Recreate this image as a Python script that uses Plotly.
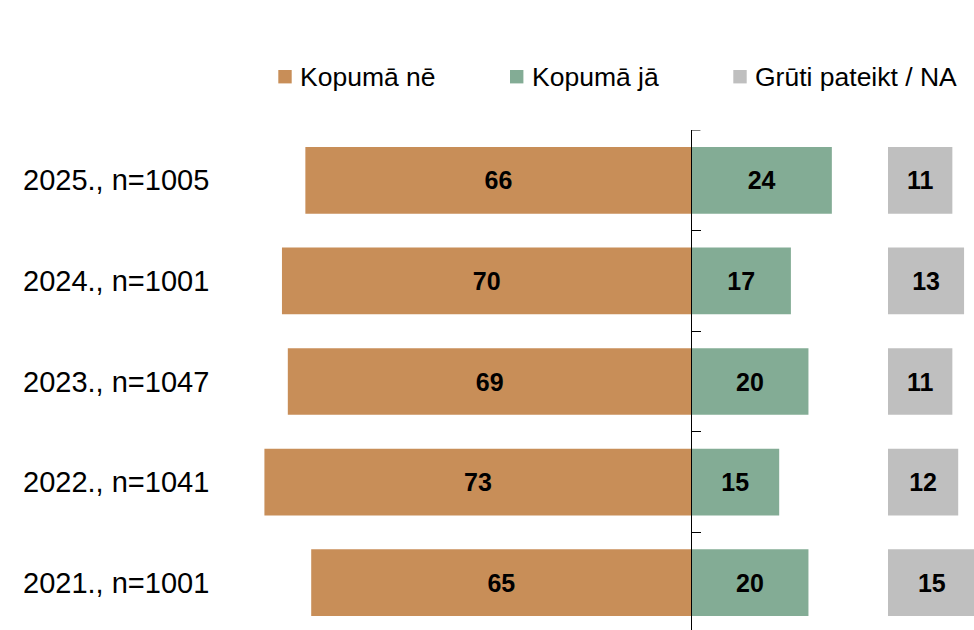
import plotly.graph_objects as go

categories = ["2025., n=1005", "2024., n=1001", "2023., n=1047", "2022., n=1041", "2021., n=1001"]
kopuma_ne = [66, 70, 69, 73, 65]
kopuma_ja = [24, 17, 20, 15, 20]
gruti_na = [11, 13, 11, 12, 15]
series_names = ["Kopumā nē", "Kopumā jā", "Grūti pateikt / NA"]

C_NE = "#C88E58"
C_JA = "#83AC95"
C_NA = "#BFBFBF"
FONT = "Liberation Sans, Arial, sans-serif"

W, H = 974, 630
TOP = 130
NA_BASE = 33.6
X_MIN, X_MAX = -118.2, 48.3
PX_PER_UNIT = W / (X_MAX - X_MIN)

fig = go.Figure()
bar_w = 0.663
common = dict(orientation="h", width=bar_w, textposition="inside",
              insidetextanchor="middle",
              textfont=dict(family=FONT, size=25, color="black", weight="bold"),
              hoverinfo="skip", showlegend=False, cliponaxis=True)

fig.add_trace(go.Bar(y=categories, x=[-v for v in kopuma_ne], text=[str(v) for v in kopuma_ne],
                     marker=dict(color=C_NE, line=dict(width=0)), name=series_names[0], **common))
fig.add_trace(go.Bar(y=categories, x=kopuma_ja, text=[str(v) for v in kopuma_ja],
                     marker=dict(color=C_JA, line=dict(width=0)), name=series_names[1], **common))
fig.add_trace(go.Bar(y=categories, x=gruti_na, base=[NA_BASE] * len(gruti_na),
                     text=[str(v) for v in gruti_na],
                     marker=dict(color=C_NA, line=dict(width=0)), name=series_names[2], **common))

px_per_cat = 100.6
y_bottom = -0.5 + (H - TOP) / px_per_cat

fig.update_layout(
    width=W, height=H,
    margin=dict(l=0, r=0, t=TOP, b=0, pad=0),
    paper_bgcolor="white", plot_bgcolor="white",
    barmode="overlay",
    font=dict(family=FONT, color="black"),
    xaxis=dict(range=[X_MIN, X_MAX], showgrid=False, zeroline=False, showticklabels=False,
               showline=False, ticks=""),
    yaxis=dict(type="category", categoryarray=categories, categoryorder="array",
               range=[y_bottom, -0.5], showgrid=False, zeroline=False,
               showticklabels=False, anchor="free",
               position=(0 - X_MIN) / (X_MAX - X_MIN),
               showline=True, linecolor="black", linewidth=1,
               ticks="inside", tickson="boundaries", ticklen=9, tickcolor="black", tickwidth=1),
)

# top boundary tick (at the top edge of the plot area)
fig.add_shape(type="line", xref="x", yref="y", x0=0, x1=9 / PX_PER_UNIT, y0=-0.5, y1=-0.5,
              line=dict(color="black", width=1), layer="above")

# category labels
for c in categories:
    fig.add_annotation(x=21 / W, xref="paper", y=c, yref="y", text=c, showarrow=False,
                       xanchor="left", yanchor="middle",
                       font=dict(family=FONT, size=29, color="black"))

# custom legend
def py2paper(py):
    return (H - py) / (H - TOP)

legend_items = [(series_names[0], C_NE, 278.3, 297.5),
                (series_names[1], C_JA, 510.0, 529.5),
                (series_names[2], C_NA, 733.3, 753.0)]
for name, col, sx, tx in legend_items:
    fig.add_shape(type="rect", xref="paper", yref="paper",
                  x0=sx / W, x1=(sx + 13.4) / W, y0=py2paper(83.4), y1=py2paper(70),
                  fillcolor=col, line=dict(width=0))
    fig.add_annotation(x=tx / W, xref="paper", y=py2paper(77), yref="paper", text=name,
                       showarrow=False, xanchor="left", yanchor="middle",
                       font=dict(family=FONT, size=26.5, color="black"))

fig.write_html("out.html", config={"displayModeBar": False})

with open("out.html", "r", encoding="utf-8") as f:
    html = f.read()
html = html.replace("<body>", '<body style="margin:0;padding:0;overflow:hidden">', 1)
html = html.replace("<head>", '<head><style>html,body{margin:0;padding:0;overflow:hidden}</style>', 1)
with open("out.html", "w", encoding="utf-8") as f:
    f.write(html)
